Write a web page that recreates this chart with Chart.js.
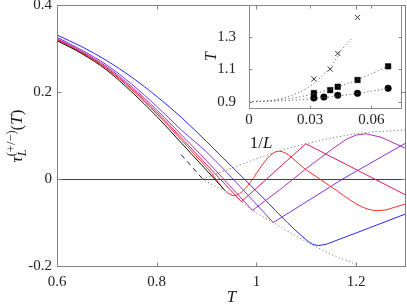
<!DOCTYPE html>
<html><head><meta charset="utf-8">
<script src="https://cdn.jsdelivr.net/npm/chart.js@4.4.0/dist/chart.umd.min.js"></script>
<style>
html,body{margin:0;padding:0;background:#fff;}
#wrap{position:relative;width:407px;height:306px;overflow:hidden;background:#fff;}
#main{position:absolute;left:0;top:0;}
#inset{position:absolute;left:195px;top:0;}
</style></head><body>
<div id="wrap"><canvas id="main" width="407" height="306"></canvas><canvas id="inset" width="212" height="160"></canvas></div>
<script>
// ---------- main plot data ----------
const xTicks = [0.6, 0.8, 1.0, 1.2];
const xTickLabels = ['0.6', '0.8', '1', '1.2'];
const yTicks = [0.4, 0.2, 0, -0.2];
const yTickLabels = ['0.4', '0.2', '0', '-0.2'];

const blackT   = [0.6, 0.65, 0.7, 0.75, 0.8, 0.85, 0.9, 0.916, 0.935];
const blackTau = [0.318, 0.288, 0.250, 0.200, 0.144, 0.082, 0.020, 0.0, -0.024];

const redT   = [0.6, 0.65, 0.7, 0.75, 0.8, 0.85, 0.9, 0.955, 1.045, 1.1, 1.15, 1.2, 1.22, 1.24, 1.26, 1.28, 1.3];
const redTau = [0.320, 0.290, 0.253, 0.205, 0.150, 0.089, 0.027, -0.038, 0.064, 0.021, -0.018, -0.057, -0.068, -0.073, -0.071, -0.064, -0.057];

const crimsonT   = [0.6, 0.65, 0.7, 0.75, 0.8, 0.85, 0.9, 0.970, 1.099, 1.3];
const crimsonTau = [0.321, 0.291, 0.255, 0.208, 0.154, 0.094, 0.033, -0.052, 0.081, -0.037];

const magentaT   = [0.6, 0.65, 0.7, 0.75, 0.8, 0.85, 0.9, 0.992, 1.05, 1.1, 1.15, 1.18, 1.2, 1.22, 1.25, 1.3];
const magentaTau = [0.323, 0.293, 0.258, 0.212, 0.159, 0.101, 0.042, -0.072, -0.022, 0.024, 0.067, 0.091, 0.101, 0.104, 0.096, 0.070];

const violetT   = [0.6, 0.65, 0.7, 0.75, 0.8, 0.85, 0.9, 1.034, 1.173, 1.3];
const violetTau = [0.326, 0.296, 0.262, 0.218, 0.167, 0.112, 0.062, -0.100, 0.0, 0.083];

const blueT   = [0.6, 0.65, 0.7, 0.75, 0.8, 0.85, 0.9, 1.0, 1.1, 1.113, 1.125, 1.14, 1.2, 1.3];
const blueTau = [0.331, 0.304, 0.272, 0.234, 0.190, 0.141, 0.086, -0.028, -0.140, -0.150, -0.153, -0.150, -0.124, -0.080];

const dashT   = [0.849, 0.893];
const dashTau = [0.056, -0.001];

const lowT   = [0.89, 0.92, 0.955, 0.97, 0.992, 1.034, 1.07, 1.115, 1.16, 1.2];
const lowTau = [0.0, -0.018, -0.038, -0.052, -0.072, -0.100, -0.125, -0.153, -0.178, -0.196];

const upT   = [0.892, 0.95, 1.045, 1.1, 1.2, 1.3];
const upTau = [0.0, 0.025, 0.064, 0.081, 0.104, 0.113];

// ---------- inset data ----------
const inXTicks = [0, 0.03, 0.06];
const inXTickLabels = ['0', '0.03', '0.06'];
const inYTicks = [0.9, 1.1, 1.3];
const inYTickLabels = ['0.9', '1.1', '1.3'];

const crossX = [0.0318, 0.0398, 0.0435, 0.0532];
const crossY = [1.040, 1.102, 1.199, 1.423];
const squareX = [0.0318, 0.0398, 0.0435, 0.0532, 0.0682];
const squareY = [0.953, 0.971, 0.992, 1.034, 1.119];
const circleX = [0.0318, 0.0367, 0.0435, 0.0532, 0.0682];
const circleY = [0.922, 0.928, 0.939, 0.951, 0.982];

const crossFitX = [0, 0.01, 0.02, 0.03, 0.035, 0.04, 0.046, 0.051];
const crossFitY = [0.9, 0.905, 0.935, 0.995, 1.05, 1.115, 1.23, 1.30];
const squareFitX = [0, 0.01, 0.02, 0.03, 0.04, 0.05, 0.06, 0.0682];
const squareFitY = [0.9, 0.905, 0.919, 0.943, 0.977, 1.020, 1.073, 1.119];
const circleFitX = [0, 0.01, 0.02, 0.03, 0.04, 0.05, 0.06, 0.0682];
const circleFitY = [0.9, 0.902, 0.907, 0.916, 0.929, 0.945, 0.964, 0.982];

// ---------- helpers ----------
const pts = (xs, ys) => xs.map((x, i) => ({x: x, y: ys[i]}));
const SERIF = '"Liberation Serif", "Times New Roman", serif';

const framePlugin = {
  id: 'frame',
  beforeDatasetsDraw(chart, args, o) {
    if (!o.zero) return;
    const {ctx, chartArea: a} = chart;
    const y = Math.round(chart.scales.y.getPixelForValue(0)) + 0.5;
    ctx.save();
    ctx.strokeStyle = '#404040'; ctx.lineWidth = 1;
    ctx.beginPath(); ctx.moveTo(a.left, y); ctx.lineTo(a.right, y); ctx.stroke();
    ctx.restore();
  },
  afterDatasetsDraw(chart, args, o) {
    const {ctx, chartArea: a, scales} = chart;
    const L = Math.round(a.left) + 0.5, R = Math.round(a.right) - 0.5;
    const T = Math.round(a.top) + 0.5, B = Math.round(a.bottom) + 0.5;
    ctx.save();
    ctx.strokeStyle = o.color; ctx.lineWidth = 1;
    ctx.strokeRect(L, T, R - L, B - T);
    ctx.beginPath();
    o.xt.forEach(v => {
      const x = Math.round(scales.x.getPixelForValue(v)) + 0.5;
      ctx.moveTo(x, B); ctx.lineTo(x, B - o.len);
      ctx.moveTo(x, T); ctx.lineTo(x, T + o.len);
    });
    o.yt.forEach(v => {
      const y = Math.round(scales.y.getPixelForValue(v)) + 0.5;
      ctx.moveTo(L, y); ctx.lineTo(L + o.len, y);
      ctx.moveTo(R, y); ctx.lineTo(R - o.len, y);
    });
    ctx.stroke();
    ctx.restore();
  }
};

function drawPieces(ctx, pieces, x0, y0) {
  let x = x0;
  for (let i = 0; i < pieces.length; i++) {
    const p = pieces[i];
    ctx.font = p.font;
    ctx.fillText(p.t, x, y0 + (p.dy || 0));
    let w = ctx.measureText(p.t).width;
    if (p.stack) {
      const q = pieces[++i];
      ctx.font = q.font;
      ctx.fillText(q.t, x, y0 + (q.dy || 0));
      w = Math.max(w, ctx.measureText(q.t).width);
    }
    x += w;
  }
}
function piecesWidth(ctx, pieces) {
  let w = 0;
  for (let i = 0; i < pieces.length; i++) {
    const p = pieces[i];
    ctx.font = p.font;
    let ww = ctx.measureText(p.t).width;
    if (p.stack) { const q = pieces[++i]; ctx.font = q.font; ww = Math.max(ww, ctx.measureText(q.t).width); }
    w += ww;
  }
  return w;
}

const mainTitles = {
  id: 'mainTitles',
  afterDraw(chart) {
    const ctx = chart.ctx, a = chart.chartArea;
    ctx.save();
    ctx.fillStyle = '#1a1a1a';
    ctx.textBaseline = 'alphabetic';
    ctx.textAlign = 'left';
    ctx.font = 'italic 17px ' + SERIF;
    const tw = ctx.measureText('T').width;
    ctx.fillText('T', (a.left + a.right) / 2 - tw / 2, 302);
    const big = '17px ' + SERIF, bigI = 'italic 17px ' + SERIF;
    const sm = '12.5px ' + SERIF, smI = 'italic 12.5px ' + SERIF;
    const pieces = [
      {t: '\u03C4', font: bigI},
      {t: 'L', font: smI, dy: 4, stack: true},
      {t: '(+/\u2212)', font: sm, dy: -7},
      {t: '(', font: big},
      {t: 'T', font: bigI},
      {t: ')', font: big}
    ];
    const w = piecesWidth(ctx, pieces);
    ctx.translate(22, 136);
    ctx.rotate(-Math.PI / 2);
    drawPieces(ctx, pieces, -w / 2, 0);
    ctx.restore();
  }
};

const insetTitles = {
  id: 'insetTitles',
  afterDraw(chart) {
    const ctx = chart.ctx, a = chart.chartArea;
    ctx.save();
    ctx.fillStyle = '#1a1a1a';
    ctx.textBaseline = 'alphabetic';
    ctx.textAlign = 'left';
    const p = [{t: '1/', font: '17px ' + SERIF}, {t: 'L', font: 'italic 17px ' + SERIF}];
    const w = piecesWidth(ctx, p);
    drawPieces(ctx, p, 66 - w / 2, 148);
    ctx.font = 'italic 16px ' + SERIF;
    const tw = ctx.measureText('T').width;
    ctx.translate(21, (a.top + a.bottom) / 2);
    ctx.rotate(-Math.PI / 2);
    ctx.fillText('T', -tw / 2, 0);
    ctx.restore();
  }
};

const lineDs = (data, color, extra) => Object.assign({
  data: data, showLine: true, borderColor: color, borderWidth: 1,
  pointRadius: 0, fill: false, tension: 0
}, extra || {});

// split a curve at its minimum: smooth (monotone) descending part + piecewise part after
function curveDs(xs, ys, color) {
  const k = ys.indexOf(Math.min.apply(null, ys));
  const out = [lineDs(pts(xs.slice(0, k + 1), ys.slice(0, k + 1)), color, {cubicInterpolationMode: 'monotone'})];
  if (k < xs.length - 1) out.push(lineDs(pts(xs.slice(k), ys.slice(k)), color));
  return out;
}

const dotted = {borderDash: [1.2, 2.4]};

new Chart(document.getElementById('main'), {
  type: 'scatter',
  data: {
    datasets: [
      lineDs(pts(lowT, lowTau), '#7a7a7a', Object.assign({cubicInterpolationMode: 'monotone'}, dotted)),
      lineDs(pts(upT, upTau), '#7a7a7a', Object.assign({cubicInterpolationMode: 'monotone'}, dotted)),
      lineDs(pts(dashT, dashTau), '#222222', {borderDash: [5, 4]}),
      ...curveDs(blackT, blackTau, '#111111'),
      ...curveDs(redT, redTau, '#ff2a2a'),
      ...curveDs(crimsonT, crimsonTau, '#dd1a5a'),
      ...curveDs(magentaT, magentaTau, '#aa30b0'),
      ...curveDs(violetT, violetTau, '#7a34e6'),
      ...curveDs(blueT, blueTau, '#2626ff')
    ]
  },
  options: {
    responsive: false, animation: false, devicePixelRatio: 1,
    layout: {padding: {top: 5, right: 1, left: 0, bottom: 0}},
    plugins: {
      legend: {display: false}, tooltip: {enabled: false},
      frame: {xt: xTicks, yt: yTicks, len: 4, color: '#808080', zero: true}
    },
    scales: {
      x: {
        type: 'linear', min: 0.6, max: 1.3,
        grid: {display: false, drawTicks: false}, border: {display: false},
        afterBuildTicks: s => { s.ticks = xTicks.map(v => ({value: v})); },
        afterFit: s => { s.height = 40; s.paddingLeft = 0; s.paddingRight = 0; },
        ticks: {
          padding: 7, color: '#222', font: {family: SERIF, size: 15},
          maxRotation: 0, autoSkip: false,
          callback: (v) => { const i = xTicks.findIndex(t => Math.abs(t - v) < 1e-9); return i >= 0 ? xTickLabels[i] : ''; }
        }
      },
      y: {
        type: 'linear', min: -0.2, max: 0.4,
        grid: {display: false, drawTicks: false}, border: {display: false},
        afterBuildTicks: s => { s.ticks = yTicks.map(v => ({value: v})); },
        afterFit: s => { s.width = 57; s.paddingTop = 0; s.paddingBottom = 0; },
        ticks: {
          padding: 5, color: '#222', font: {family: SERIF, size: 15}, autoSkip: false,
          callback: (v) => { const i = yTicks.findIndex(t => Math.abs(t - v) < 1e-9); return i >= 0 ? yTickLabels[i] : ''; }
        }
      }
    }
  },
  plugins: [framePlugin, mainTitles]
});

new Chart(document.getElementById('inset'), {
  type: 'scatter',
  data: {
    datasets: [
      lineDs(pts(crossFitX, crossFitY), '#6a6a6a', Object.assign({cubicInterpolationMode: 'monotone'}, dotted)),
      lineDs(pts(squareFitX, squareFitY), '#6a6a6a', Object.assign({cubicInterpolationMode: 'monotone'}, dotted)),
      lineDs(pts(circleFitX, circleFitY), '#6a6a6a', Object.assign({cubicInterpolationMode: 'monotone'}, dotted)),
      {data: pts(crossX, crossY), showLine: false, pointStyle: 'crossRot', pointRadius: 3.6,
       pointBorderColor: '#333', pointBorderWidth: 1, pointBackgroundColor: '#333'},
      {data: pts(squareX, squareY), showLine: false, pointStyle: 'rect', pointRadius: 3.9,
       pointBorderColor: '#000', pointBorderWidth: 0.5, pointBackgroundColor: '#000'},
      {data: pts(circleX, circleY), showLine: false, pointStyle: 'circle', pointRadius: 3.3,
       pointBorderColor: '#000', pointBorderWidth: 0.5, pointBackgroundColor: '#000'}
    ]
  },
  options: {
    responsive: false, animation: false, devicePixelRatio: 1,
    layout: {padding: {top: 5, right: 4, left: 0, bottom: 0}},
    plugins: {
      legend: {display: false}, tooltip: {enabled: false},
      frame: {xt: inXTicks, yt: inYTicks, len: 3, color: '#8a8a8a', zero: false}
    },
    scales: {
      x: {
        type: 'linear', min: 0, max: 0.075,
        grid: {display: false, drawTicks: false}, border: {display: false},
        afterBuildTicks: s => { s.ticks = inXTicks.map(v => ({value: v})); },
        afterFit: s => { s.height = 52; s.paddingLeft = 0; s.paddingRight = 0; },
        ticks: {
          padding: 3, color: '#222', font: {family: SERIF, size: 15}, maxRotation: 0, autoSkip: false,
          callback: (v) => { const i = inXTicks.findIndex(t => Math.abs(t - v) < 1e-9); return i >= 0 ? inXTickLabels[i] : ''; }
        }
      },
      y: {
        type: 'linear', min: 0.86, max: 1.5,
        grid: {display: false, drawTicks: false}, border: {display: false},
        afterBuildTicks: s => { s.ticks = inYTicks.map(v => ({value: v})); },
        afterFit: s => { s.width = 54; s.paddingTop = 0; s.paddingBottom = 0; },
        ticks: {
          padding: 13, color: '#222', font: {family: SERIF, size: 15}, autoSkip: false,
          callback: (v) => { const i = inYTicks.findIndex(t => Math.abs(t - v) < 1e-9); return i >= 0 ? inYTickLabels[i] : ''; }
        }
      }
    }
  },
  plugins: [framePlugin, insetTitles]
});
</script>
</body></html>
